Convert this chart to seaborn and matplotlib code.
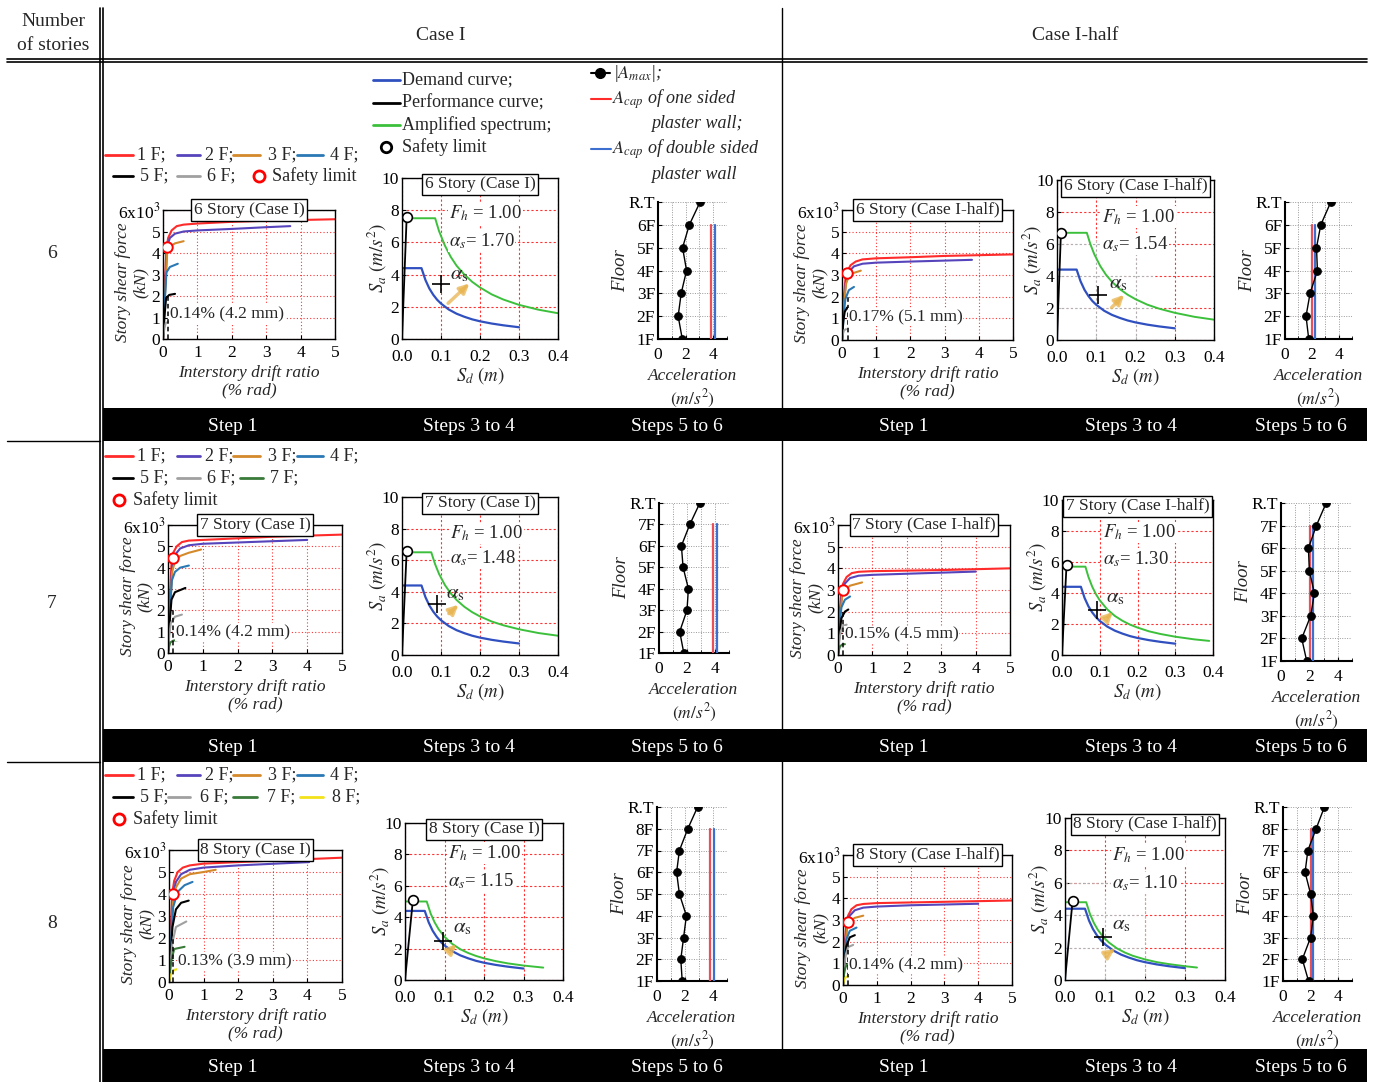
import matplotlib
matplotlib.use("Agg")
import matplotlib.pyplot as plt
from matplotlib.lines import Line2D
from matplotlib.patches import Rectangle
import seaborn as sns

W, H = 1373, 1082

# pushover curves, one (drift %, shear x10^3 kN) pair per floor, 1F first
push_6_I = [
    ([0, 0.06, 0.1, 0.15, 0.25, 0.4, 0.6, 1, 2, 3, 5], [0, 2.8, 4.2, 4.7, 5.05, 5.25, 5.32, 5.37, 5.45, 5.5, 5.57]),
    ([0, 0.07, 0.12, 0.2, 0.35, 0.6, 1, 2, 3, 3.7], [0, 2.6, 4.3, 4.7, 4.9, 5.0, 5.05, 5.12, 5.2, 5.25]),
    ([0, 0.07, 0.12, 0.2, 0.35, 0.6], [0, 2.5, 4.0, 4.3, 4.45, 4.55]),
    ([0, 0.06, 0.1, 0.2, 0.43], [0, 2.0, 3.1, 3.35, 3.5]),
    ([0, 0.05, 0.09, 0.18, 0.35], [0, 1.2, 1.9, 2.05, 2.1]),
    ([0, 0.04, 0.08, 0.2], [0, 0.5, 0.75, 0.8]),
]
push_6_half = [
    ([0, 0.05, 0.1, 0.15, 0.25, 0.4, 0.6, 1, 2, 3, 5], [0, 1.9, 2.8, 3.15, 3.45, 3.62, 3.72, 3.77, 3.82, 3.88, 3.95]),
    ([0, 0.06, 0.12, 0.2, 0.35, 0.6, 1, 2, 3.8], [0, 1.8, 2.8, 3.15, 3.4, 3.52, 3.57, 3.62, 3.7]),
    ([0, 0.06, 0.12, 0.2, 0.35, 0.55], [0, 1.7, 2.6, 2.95, 3.1, 3.2]),
    ([0, 0.05, 0.1, 0.2, 0.35], [0, 1.2, 1.9, 2.3, 2.45]),
    ([0, 0.04, 0.08, 0.15], [0, 0.9, 1.3, 1.5]),
    ([0, 0.03, 0.06, 0.12], [0, 0.3, 0.45, 0.5]),
]
push_7_I = [
    ([0, 0.06, 0.1, 0.15, 0.25, 0.4, 0.6, 1, 3, 5], [0, 2.8, 4.2, 4.7, 5.0, 5.2, 5.27, 5.3, 5.45, 5.55]),
    ([0, 0.07, 0.12, 0.2, 0.35, 0.6, 1, 2, 4], [0, 2.5, 4.1, 4.6, 4.9, 5.05, 5.12, 5.18, 5.3]),
    ([0, 0.07, 0.12, 0.2, 0.35, 0.6, 0.95], [0, 2.4, 3.8, 4.3, 4.55, 4.7, 4.85]),
    ([0, 0.06, 0.11, 0.2, 0.35, 0.6], [0, 2.1, 3.4, 3.8, 4.0, 4.1]),
    ([0, 0.05, 0.1, 0.2, 0.5], [0, 1.5, 2.5, 2.85, 3.05]),
    ([0, 0.04, 0.08, 0.2, 0.4], [0, 0.9, 1.4, 1.7, 1.8]),
    ([0, 0.03, 0.07, 0.15, 0.35], [0, 0.3, 0.5, 0.58, 0.62]),
]
push_7_half = [
    ([0, 0.05, 0.1, 0.15, 0.25, 0.4, 0.6, 1, 3, 5], [0, 2.0, 2.9, 3.3, 3.6, 3.78, 3.84, 3.87, 3.92, 4.0]),
    ([0, 0.06, 0.12, 0.2, 0.35, 0.6, 1, 2, 4], [0, 1.9, 2.9, 3.3, 3.55, 3.66, 3.7, 3.75, 3.85]),
    ([0, 0.06, 0.12, 0.2, 0.35, 0.7], [0, 1.8, 2.7, 3.0, 3.2, 3.35]),
    ([0, 0.05, 0.1, 0.2, 0.35], [0, 1.5, 2.2, 2.55, 2.7]),
    ([0, 0.05, 0.1, 0.2, 0.3], [0, 1.1, 1.7, 2.0, 2.1]),
    ([0, 0.04, 0.08, 0.15, 0.25], [0, 0.7, 1.1, 1.35, 1.4]),
    ([0, 0.03, 0.06, 0.12, 0.2], [0, 0.25, 0.4, 0.48, 0.5]),
]
push_8_I = [
    ([0, 0.06, 0.1, 0.15, 0.25, 0.4, 0.6, 1, 3, 5], [0, 2.8, 4.1, 4.6, 5.0, 5.2, 5.3, 5.38, 5.52, 5.65]),
    ([0, 0.07, 0.12, 0.2, 0.35, 0.6, 1, 2, 4.05], [0, 2.5, 4.0, 4.55, 4.9, 5.1, 5.2, 5.3, 5.45]),
    ([0, 0.07, 0.12, 0.2, 0.35, 0.6, 1, 1.35], [0, 2.3, 3.7, 4.3, 4.7, 4.9, 5.0, 5.1]),
    ([0, 0.06, 0.12, 0.25, 0.45, 0.68], [0, 2.0, 3.4, 4.1, 4.4, 4.55]),
    ([0, 0.06, 0.1, 0.2, 0.35, 0.57], [0, 1.5, 2.5, 3.3, 3.6, 3.7]),
    ([0, 0.05, 0.1, 0.2, 0.5], [0, 1.0, 1.8, 2.5, 2.75]),
    ([0, 0.04, 0.07, 0.15, 0.45], [0, 0.6, 1.0, 1.5, 1.6]),
    ([0, 0.03, 0.06, 0.15, 0.28], [0, 0.2, 0.35, 0.55, 0.6]),
]
push_8_half = [
    ([0, 0.05, 0.1, 0.15, 0.25, 0.4, 0.6, 1, 3, 5], [0, 1.9, 2.8, 3.2, 3.5, 3.68, 3.74, 3.78, 3.84, 3.9]),
    ([0, 0.06, 0.12, 0.2, 0.35, 0.6, 1, 2, 4], [0, 1.8, 2.8, 3.2, 3.45, 3.57, 3.62, 3.68, 3.75]),
    ([0, 0.06, 0.12, 0.2, 0.35, 0.6], [0, 1.7, 2.6, 2.95, 3.1, 3.2]),
    ([0, 0.05, 0.1, 0.2, 0.4], [0, 1.4, 2.1, 2.5, 2.65]),
    ([0, 0.05, 0.1, 0.2, 0.35], [0, 1.2, 1.8, 2.2, 2.3]),
    ([0, 0.04, 0.08, 0.15, 0.3], [0, 0.9, 1.4, 1.75, 1.85]),
    ([0, 0.03, 0.07, 0.12, 0.2], [0, 0.5, 0.8, 0.95, 1.0]),
    ([0, 0.02, 0.05, 0.1, 0.15], [0, 0.15, 0.3, 0.38, 0.4]),
]
# safety limit points on pushover curves and the drift notes
push_safe = {"6_I": (0.12, 4.3), "6_half": (0.15, 3.1), "7_I": (0.14, 4.45),
             "7_half": (0.15, 3.0), "8_I": (0.13, 4.0), "8_half": (0.14, 2.9)}
drift_limit = {"6_I": 0.14, "6_half": 0.17, "7_I": 0.14, "7_half": 0.15, "8_I": 0.13, "8_half": 0.14}
drift_note = {"6_I": "0.14% (4.2 mm)", "6_half": "0.17% (5.1 mm)", "7_I": "0.14% (4.2 mm)",
              "7_half": "0.15% (4.5 mm)", "8_I": "0.13% (3.9 mm)", "8_half": "0.14% (4.2 mm)"}

# capacity spectrum: demand curve (same in every panel)
demand_sd = [0, 0, 0.05, 0.06, 0.07, 0.08, 0.09, 0.1, 0.12, 0.14, 0.16, 0.18, 0.2, 0.23, 0.26, 0.3]
demand_sa = [0, 4.4, 4.4, 3.67, 3.14, 2.75, 2.44, 2.2, 1.83, 1.57, 1.38, 1.22, 1.1, 0.96, 0.85, 0.73]
# amplified spectra
amp_6_I_sd = [0, 0, 0.085, 0.095, 0.11, 0.125, 0.14, 0.16, 0.18, 0.2, 0.23, 0.26, 0.3, 0.35, 0.4]
amp_6_I_sa = [0, 7.5, 7.5, 6.7, 5.8, 5.1, 4.55, 4.0, 3.55, 3.2, 2.77, 2.45, 2.12, 1.82, 1.6]
amp_6_half_sd = [0, 0, 0.076, 0.085, 0.095, 0.11, 0.125, 0.14, 0.16, 0.18, 0.2, 0.23, 0.26, 0.3, 0.35, 0.4]
amp_6_half_sa = [0, 6.7, 6.7, 5.99, 5.36, 4.63, 4.07, 3.64, 3.18, 2.83, 2.55, 2.21, 1.96, 1.70, 1.45, 1.27]
amp_7_I_sd = [0, 0, 0.075, 0.085, 0.095, 0.11, 0.125, 0.14, 0.16, 0.18, 0.2, 0.23, 0.26, 0.3, 0.35, 0.4]
amp_7_I_sa = [0, 6.5, 6.5, 5.74, 5.13, 4.43, 3.9, 3.48, 3.05, 2.71, 2.44, 2.12, 1.88, 1.63, 1.39, 1.22]
amp_7_half_sd = [0, 0, 0.062, 0.07, 0.08, 0.09, 0.1, 0.12, 0.14, 0.16, 0.18, 0.2, 0.23, 0.26, 0.3, 0.35, 0.39]
amp_7_half_sa = [0, 5.7, 5.7, 5.04, 4.41, 3.92, 3.53, 2.94, 2.52, 2.21, 1.96, 1.77, 1.53, 1.36, 1.18, 1.01, 0.91]
amp_8_I_sd = [0, 0, 0.055, 0.065, 0.075, 0.085, 0.1, 0.12, 0.14, 0.16, 0.18, 0.2, 0.23, 0.26, 0.3, 0.35]
amp_8_I_sa = [0, 5.0, 5.0, 4.23, 3.67, 3.24, 2.75, 2.29, 1.96, 1.72, 1.53, 1.38, 1.2, 1.06, 0.92, 0.79]
amp_8_half_sd = [0, 0, 0.053, 0.062, 0.072, 0.082, 0.095, 0.11, 0.13, 0.15, 0.17, 0.2, 0.23, 0.26, 0.3, 0.33]
amp_8_half_sa = [0, 4.8, 4.8, 4.1, 3.53, 3.1, 2.67, 2.31, 1.95, 1.69, 1.49, 1.27, 1.1, 0.98, 0.85, 0.77]
# safety limit on the performance curve, and alpha_s
spec_safe = {"6_I": (0.012, 7.6), "6_half": (0.01, 6.7), "7_I": (0.012, 6.6),
             "7_half": (0.012, 5.8), "8_I": (0.02, 5.1), "8_half": (0.019, 4.9)}
alpha_s = {"6_I": "1.70", "6_half": "1.54", "7_I": "1.48", "7_half": "1.30", "8_I": "1.15", "8_half": "1.10"}
F_h = "1.00"

# floor accelerations |A_max| (m/s2), 1F ... R.T, and A_cap (one sided, double sided)
acc_6_I = [1.76, 1.46, 1.68, 2.07, 1.78, 2.27, 3.05]
acc_6_half = [1.77, 1.57, 1.87, 2.42, 2.35, 2.67, 3.42]
acc_7_I = [1.77, 1.48, 2.0, 2.1, 1.72, 1.6, 2.2, 2.92]
acc_7_half = [1.81, 1.46, 2.09, 2.35, 2.0, 1.93, 2.49, 3.18]
acc_8_I = [1.8, 1.7, 1.9, 2.1, 1.6, 1.4, 1.6, 2.2, 2.9]
acc_8_half = [1.85, 1.4, 2.0, 2.2, 2.0, 1.6, 1.8, 2.4, 3.0]
acap = {"6_I": (3.83, 4.1), "6_half": (2.02, 2.27), "7_I": (3.86, 4.14),
        "7_half": (2.02, 2.24), "8_I": (3.8, 4.1), "8_half": (2.0, 2.2)}
floors_6 = ["1F", "2F", "3F", "4F", "5F", "6F", "R.T"]
floors_7 = ["1F", "2F", "3F", "4F", "5F", "6F", "7F", "R.T"]
floors_8 = ["1F", "2F", "3F", "4F", "5F", "6F", "7F", "8F", "R.T"]

floor_names = ["1 F;", "2 F;", "3 F;", "4 F;", "5 F;", "6 F;", "7 F;", "8 F;"]
floor_colors = ["#ff2a2a", "#5544bb", "#d4892a", "#2a78b4", "black", "#a0a0a0", "#3a7a3a", "#f2e21a"]

sns.set_style("ticks")
plt.rcParams["font.family"] = ["Liberation Serif", "DejaVu Serif"]
plt.rcParams["mathtext.fontset"] = "stix"
plt.rcParams["xtick.direction"] = "in"
plt.rcParams["ytick.direction"] = "in"
plt.rcParams["axes.edgecolor"] = "black"
plt.rcParams["axes.linewidth"] = 1.0
plt.rcParams["xtick.color"] = "black"
plt.rcParams["ytick.color"] = "black"

fig = plt.figure(figsize=(W / 100, H / 100), dpi=100)
FS = 12.5


def box(l, t, r, b):
    return fig.add_axes([l / W, 1 - b / H, (r - l) / W, (b - t) / H])


def fline(xs, y0, y1, **kw):
    fig.add_artist(Line2D([x / W for x in xs], [1 - y0 / H, 1 - y1 / H][:len(xs)] if len(xs) == 2
                          else [1 - y0 / H] * len(xs), **kw))


def ftext(x, y, s, **kw):
    kw.setdefault("va", "center")
    kw.setdefault("fontsize", 13)
    fig.text(x / W, 1 - y / H, s, **kw)


def title_box(ax, s, y=1.0):
    ax.text(0.5, y, s, transform=ax.transAxes, ha="center", va="center", fontsize=FS, zorder=10,
            bbox=dict(boxstyle="square,pad=0.15", fc="white", ec="black", lw=1))


def pushover(ax, key, curves, title, note_pos):
    for (x, y), c in zip(curves, floor_colors):
        sns.lineplot(x=x, y=y, ax=ax, color=c, lw=1.5, sort=False, estimator=None)
    d = drift_limit[key]
    ax.plot([d, d], [0, 2.0], color="black", ls=(0, (3, 2)), lw=1.1)
    ax.text(note_pos[0], note_pos[1], drift_note[key], fontsize=FS, va="center", ha="left", zorder=6,
            bbox=dict(boxstyle="square,pad=0.05", fc="white", ec="none"))
    sx, sy = push_safe[key]
    ax.plot(sx, sy, "o", mfc="white", mec="red", mew=1.4, ms=7.5, zorder=7)
    ax.set_xlim(0, 5)
    ax.set_ylim(0, 6)
    ax.set_xticks(range(6))
    ax.set_yticks(range(7))
    ax.set_yticklabels(["0", "1", "2", "3", "4", "5", "6x10$^3$"])
    ax.tick_params(labelsize=FS, length=3, pad=2)
    ax.tick_params(axis="x", pad=4)
    ax.grid(True, color="red", ls=(0, (1, 2)), lw=0.8, alpha=0.8)
    ax.set_xlabel("Interstory drift ratio\n(% rad)", style="italic", fontsize=FS, labelpad=3, linespacing=1.15)
    ax.set_ylabel("Story shear force\n(kN)", style="italic", fontsize=FS, linespacing=1.1)
    ax.yaxis.set_label_coords(-0.085, 0.44)
    title_box(ax, title)


def spectrum(ax, key, amp_sd, amp_sa, title, txt_pos, cross, arrow, alpha_pos, veil=None):
    ax.set_xlim(0, 0.4)
    ax.set_ylim(0, 10)
    ax.set_xticks([0, 0.1, 0.2, 0.3, 0.4])
    ax.set_xticklabels(["0.0", "0.1", "0.2", "0.3", "0.4"])
    ax.set_yticks(range(0, 11, 2))
    ax.tick_params(labelsize=FS, length=3, pad=2)
    ax.tick_params(axis="x", pad=7)
    ax.grid(True, color="red", ls=(0, (2, 2)), lw=0.8, alpha=0.8)
    if veil is not None:
        ax.add_patch(Rectangle((0, 0), veil[0], veil[1], fc="white", ec="none", alpha=0.75, zorder=1.2))
        ax.vlines([0.1, 0.2], 0, veil[1], color="#b0b0b0", ls=(0, (2, 2)), lw=0.8, zorder=1.3)
        ax.hlines([2, 4, 6], 0, veil[0], color="#b0b0b0", ls=(0, (2, 2)), lw=0.8, zorder=1.3)
    sns.lineplot(x=amp_sd, y=amp_sa, ax=ax, color="#3cc03c", lw=1.4, sort=False, estimator=None)
    sns.lineplot(x=demand_sd, y=demand_sa, ax=ax, color="#3050c0", lw=1.6, sort=False, estimator=None)
    sx, sy = spec_safe[key]
    ax.plot([0, sx], [0, sy], color="black", lw=1.3)
    ax.plot(sx, sy, "o", mfc="white", mec="black", mew=1.2, ms=7, zorder=7)
    ax.text(txt_pos[0], txt_pos[1], "$F_h$ = " + F_h, fontsize=13.5, va="center", ha="left",
            bbox=dict(boxstyle="square,pad=0.05", fc="white", ec="none"))
    ax.text(txt_pos[0], txt_pos[2], r"$\alpha_s$= " + alpha_s[key], fontsize=13.5, va="center", ha="left",
            bbox=dict(boxstyle="square,pad=0.05", fc="white", ec="none"))
    ax.plot(cross[0], cross[1], "+", color="black", ms=13, mew=1.2, zorder=8)
    ax.annotate("", xy=arrow[2:], xytext=arrow[:2],
                arrowprops=dict(arrowstyle="-|>", color="#e8b450", lw=2.5, alpha=0.75, mutation_scale=14))
    ax.text(alpha_pos[0], alpha_pos[1], r"$\alpha_{\rm s}$", fontsize=15, ha="center", va="center", zorder=8)
    ax.set_xlabel("$S_d$ $(m)$", fontsize=FS + 1, labelpad=0)
    ax.set_ylabel("$S_a$ $(m/s^2)$", fontsize=FS + 1)
    ax.yaxis.set_label_coords(-0.085, 0.5)
    title_box(ax, title, 0.96)


def accel(ax, key, acc, labels):
    n = len(acc)
    idx = list(range(n))
    one, two = acap[key]
    ax.plot([one, one], [0, n - 2], color="#e8505a", lw=1.6, zorder=3)
    ax.plot([two, two], [0, n - 2], color="#3d6fd0", lw=1.6, zorder=3)
    sns.lineplot(x=acc, y=idx, ax=ax, color="black", lw=1.0, sort=False, estimator=None,
                 marker="o", markersize=5.5, markeredgecolor="black", zorder=5)
    ax.set_xlim(0, 5)
    ax.set_ylim(0, n - 1)
    ax.set_xticks([0, 2, 4])
    ax.set_xticks([1, 3, 5], minor=True)
    ax.set_yticks(idx)
    ax.set_yticklabels(labels)
    ax.tick_params(labelsize=FS, length=3, pad=2)
    ax.tick_params(axis="x", pad=6)
    ax.tick_params(which="minor", length=2)
    ax.grid(True, which="both", color="#999999", ls=(0, (1, 1.5)), lw=0.7)
    for s in ("top", "right"):
        ax.spines[s].set_visible(False)
    ax.spines["left"].set_linewidth(1.5)
    ax.spines["bottom"].set_linewidth(1.5)
    ax.set_xlabel("Acceleration\n$(m/s^2)$", style="italic", fontsize=FS, labelpad=3, linespacing=1.25)
    ax.set_ylabel("Floor", style="italic", fontsize=FS + 1, labelpad=0)


# ---- panels
pushover(box(163, 210, 335, 339), "6_I", push_6_I, "6 Story (Case I)", (0.2, 1.15))
pushover(box(842, 210, 1013, 340), "6_half", push_6_half, "6 Story (Case I-half)", (0.2, 1.05))
pushover(box(168, 525, 342, 653), "7_I", push_7_I, "7 Story (Case I)", (0.22, 0.98))
pushover(box(838, 525, 1010, 655), "7_half", push_7_half, "7 Story (Case I-half)", (0.2, 0.95))
pushover(box(169, 850, 342, 982), "8_I", push_8_I, "8 Story (Case I)", (0.25, 0.95))
pushover(box(843, 855, 1012, 985), "8_half", push_8_half, "8 Story (Case I-half)", (0.17, 0.92))

spectrum(box(402, 178, 558, 339), "6_I", amp_6_I_sd, amp_6_I_sa, "6 Story (Case I)",
         (0.12, 7.8, 6.1), (0.1, 3.4), (0.113, 2.1, 0.178, 3.57), (0.148, 4.0))
spectrum(box(1057, 180, 1214, 340), "6_half", amp_6_half_sd, amp_6_half_sa, "6 Story (Case I-half)",
         (0.115, 7.7, 6.0), (0.104, 2.8), (0.134, 1.9, 0.176, 2.95), (0.155, 3.5), veil=(0.25, 6.2))
spectrum(box(402, 497, 558, 655), "7_I", amp_7_I_sd, amp_7_I_sa, "7 Story (Case I)",
         (0.123, 7.7, 6.1), (0.09, 3.2), (0.115, 2.5, 0.15, 3.3), (0.136, 3.9))
spectrum(box(1062, 500, 1213, 655), "7_half", amp_7_half_sd, amp_7_half_sa, "7 Story (Case I-half)",
         (0.109, 7.9, 6.2), (0.093, 2.9), (0.115, 2.3, 0.14, 2.9), (0.14, 3.7))
spectrum(box(405, 823, 563, 980), "8_I", amp_8_I_sd, amp_8_I_sa, "8 Story (Case I)",
         (0.109, 8.1, 6.3), (0.095, 2.5), (0.115, 1.9, 0.135, 2.4), (0.144, 3.3))
spectrum(box(1065, 818, 1225, 980), "8_half", amp_8_half_sd, amp_8_half_sa, "8 Story (Case I-half)",
         (0.118, 7.7, 6.0), (0.096, 2.65), (0.112, 1.7, 0.13, 2.0), (0.14, 3.4), veil=(0.2, 5.4))

accel(box(658, 202, 727, 339), "6_I", acc_6_I, floors_6)
accel(box(1285, 202, 1352, 339), "6_half", acc_6_half, floors_6)
accel(box(659, 503, 729, 653), "7_I", acc_7_I, floors_7)
accel(box(1281, 503, 1352, 661), "7_half", acc_7_half, floors_7)
accel(box(657, 807, 727, 981), "8_I", acc_8_I, floors_8)
accel(box(1283, 807, 1352, 981), "8_half", acc_8_half, floors_8)

# ---- legends drawn in figure pixels
line_x = [(105, 133, 137), (177, 200, 205), (233, 260, 268), (297, 323, 330),
          (113, 133, 140), (177, 200, 207), (240, 263, 270), (300, 323, 332)]
for row, (y1, y2, y3, n) in enumerate([(155, 176, None, 6), (456, 478, 500, 7), (775, 797, 819, 8)]):
    for i in range(n):
        x0, x1, xt = line_x[i]
        if row == 2 and i == 5:
            x0, x1, xt = 168, 190, 200
        if row == 2 and i == 6:
            x0, x1, xt = 233, 257, 267
        yy = y1 if i < 4 else y2
        fline([x0, x1], yy, yy, color=floor_colors[i], lw=2)
        ftext(xt, yy, floor_names[i])
    if y3 is None:
        fig.add_artist(Line2D([259 / W], [1 - y2 / H], marker="o", mfc="white", mec="red", mew=2, ms=8))
        ftext(272, y2, "Safety limit")
    else:
        fig.add_artist(Line2D([119 / W], [1 - y3 / H], marker="o", mfc="white", mec="red", mew=2, ms=8))
        ftext(133, y3, "Safety limit")

for y, c, s in [(80, "#3050c0", "Demand curve;"), (103, "black", "Performance curve;"),
                (125, "#3cc03c", "Amplified spectrum;")]:
    fline([373, 400], y, y, color=c, lw=2)
    ftext(402, y, s)
fig.add_artist(Line2D([386 / W], [1 - 147 / H], marker="o", mfc="white", mec="black", mew=2, ms=7.5))
ftext(402, 147, "Safety limit")

fline([591, 600, 610], 73, 73, color="black", lw=1.5, marker="o", markevery=[1], ms=7)
ftext(613, 73, "|$A_{max}$|;", style="italic")
fline([591, 611], 99, 99, color="#ff2a2a", lw=1.5)
ftext(612, 99, "$A_{cap}$ of one sided", style="italic")
ftext(651, 123, "plaster wall;", style="italic")
fline([591, 611], 149, 149, color="#3d6fd0", lw=1.5)
ftext(612, 149, "$A_{cap}$ of double sided", style="italic")
ftext(651, 175, "plaster wall", style="italic")

# ---- table frame
fline([7, 1367], 59, 59, color="black", lw=1.2)
fline([7, 1367], 62, 62, color="black", lw=1.2)
fline([100, 100], 8, 1082, color="black", lw=1.2)
fline([103, 103], 8, 1082, color="black", lw=1.2)
fline([782, 782], 8, 1050, color="black", lw=1.0)
fline([7, 100], 441, 441, color="black", lw=1.0)
fline([7, 100], 762, 762, color="black", lw=1.0)
ftext(53, 22, "Number", ha="center", fontsize=14)
ftext(53, 45, "of stories", ha="center", fontsize=14)
ftext(441, 36, "Case I", ha="center", fontsize=14)
ftext(1075, 36, "Case I-half", ha="center", fontsize=14)
for y, s in [(254, "6"), (604, "7"), (924, "8")]:
    ftext(52, y, s, ha="center", fontsize=14)

for top, bot in [(408, 441), (729, 762), (1049, 1082)]:
    fig.add_artist(Rectangle((103 / W, 1 - bot / H), (1367 - 103) / W, (bot - top) / H,
                             transform=fig.transFigure, fc="black", ec="none"))
    yc = (top + bot) / 2 + 2
    for x, s in [(233, "Step 1"), (469, "Steps 3 to 4"), (677, "Steps 5 to 6"),
                 (904, "Step 1"), (1131, "Steps 3 to 4"), (1301, "Steps 5 to 6")]:
        ftext(x, yc, s, ha="center", fontsize=14, color="white")

fig.savefig("out.png", dpi=100, facecolor="white")
